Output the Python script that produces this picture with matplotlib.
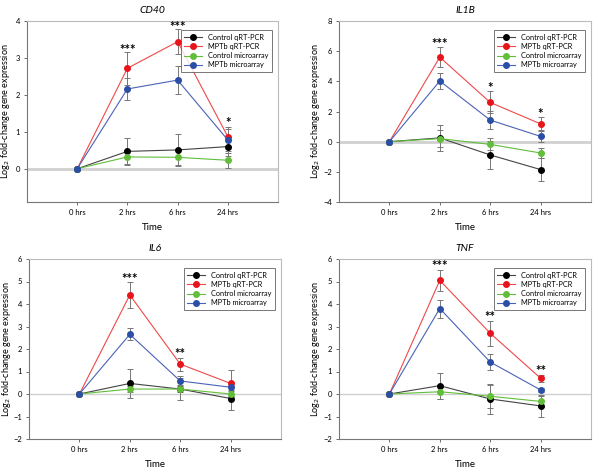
import matplotlib
matplotlib.use("Agg")
import matplotlib.pyplot as plt

plt.rcParams["font.family"] = ["Lato", "DejaVu Sans"]

times = ["0 hrs", "2 hrs", "6 hrs", "24 hrs"]
series_names = ["Control qRT-PCR", "MPTb qRT-PCR", "Control microarray", "MPTb microarray"]
series_colors = ["#000000", "#e8141b", "#62bd3a", "#2b4ea6"]
line_colors = ["#444444", "#f04848", "#62bd3a", "#4a62b8"]

# CD40
cd40_vals = [
    [0, 0.47, 0.51, 0.60],
    [0, 2.72, 3.44, 0.87],
    [0, 0.32, 0.31, 0.23],
    [0, 2.16, 2.40, 0.78],
]
cd40_err = [
    [0, 0.37, 0.43, 0.25],
    [0, 0.44, 0.34, 0.26],
    [0, 0.20, 0.22, 0.21],
    [0, 0.31, 0.38, 0.30],
]
cd40_stars = [(1, 3.22, "***"), (2, 3.83, "***"), (3, 1.25, "*")]

# IL1B
il1b_vals = [
    [0, 0.25, -0.88, -1.85],
    [0, 5.60, 2.60, 1.18],
    [0, 0.20, -0.18, -0.75],
    [0, 4.02, 1.43, 0.35],
]
il1b_err = [
    [0, 0.85, 0.92, 0.75],
    [0, 0.66, 0.73, 0.45],
    [0, 0.55, 0.40, 0.35],
    [0, 0.52, 0.60, 0.40],
]
il1b_stars = [(1, 6.45, "***"), (2, 3.55, "*"), (3, 1.85, "*")]

# IL6
il6_vals = [
    [0, 0.47, 0.22, -0.20],
    [0, 4.40, 1.33, 0.47],
    [0, 0.22, 0.22, 0.00],
    [0, 2.65, 0.58, 0.30],
]
il6_err = [
    [0, 0.64, 0.48, 0.52],
    [0, 0.56, 0.29, 0.58],
    [0, 0.15, 0.12, 0.12],
    [0, 0.27, 0.20, 0.10],
]
il6_stars = [(1, 5.10, "***"), (2, 1.76, "**")]

# TNF
tnf_vals = [
    [0, 0.37, -0.22, -0.53],
    [0, 5.05, 2.70, 0.70],
    [0, 0.10, -0.10, -0.33],
    [0, 3.80, 1.42, 0.18],
]
tnf_err = [
    [0, 0.58, 0.65, 0.47],
    [0, 0.48, 0.56, 0.16],
    [0, 0.30, 0.50, 0.25],
    [0, 0.40, 0.34, 0.10],
]
tnf_stars = [(1, 5.67, "***"), (2, 3.42, "**"), (3, 1.03, "**")]

panels = [
    ("CD40", cd40_vals, cd40_err, cd40_stars, (-0.9, 4), [0, 1, 2, 3, 4], [27, 21, 278, 202], 12, 2.0),
    ("IL1B", il1b_vals, il1b_err, il1b_stars, (-4, 8), [-4, -2, 0, 2, 4, 6, 8], [339, 21, 591, 202], 322, 2.0),
    ("IL6", il6_vals, il6_err, il6_stars, (-2, 6), [-2, -1, 0, 1, 2, 3, 4, 5, 6], [29, 259, 281, 439], 13, 1.0),
    ("TNF", tnf_vals, tnf_err, tnf_stars, (-2, 6), [-2, -1, 0, 1, 2, 3, 4, 5, 6], [339, 259, 591, 439], 322, 1.0),
]

W, H = 600, 470
fig = plt.figure(figsize=(6, 4.7), dpi=100)

for title, vals, errs, stars, ylim, yticks, box, labx, zlw in panels:
    l, t, r, b = box
    ax = fig.add_axes([l / W, 1 - b / H, (r - l) / W, (b - t) / H])
    x = range(len(times))
    ax.axhline(0, color="#d0d0d0", lw=zlw, zorder=0)
    for i in range(len(series_names)):
        ax.errorbar(x, vals[i], yerr=errs[i], fmt="none", ecolor="#777777",
                    elinewidth=0.7, capsize=2.5, capthick=0.7, zorder=1)
    for i in range(len(series_names)):
        ax.plot(x, vals[i], color=line_colors[i], lw=0.8, marker="o", ms=4.0,
                mfc=series_colors[i], mec=series_colors[i], label=series_names[i], zorder=3)
    for xi, yi, s in stars:
        ax.text(xi, yi, s, ha="center", va="center", fontsize=9.5, fontweight="bold")
    ax.set_xlim(-1, 4)
    ax.set_ylim(*ylim)
    ax.set_yticks(yticks)
    ax.set_xticks(list(x))
    ax.set_xticklabels(times)
    ax.tick_params(labelsize=5.5, length=2, width=0.6, color="#555555", pad=3)
    for side in ["left", "bottom"]:
        ax.spines[side].set_color("#777777")
        ax.spines[side].set_linewidth(0.8)
    for side in ["top", "right"]:
        ax.spines[side].set_color("#bbbbbb")
        ax.spines[side].set_linewidth(0.8)
    ax.set_title(title, style="italic", fontsize=7.5, pad=6)
    ax.set_xlabel("Time", fontsize=7, labelpad=5)
    ax.set_ylabel("Log$_2$ fold-change gene expression", fontsize=6.5)
    ax.yaxis.set_label_coords((labx - l) / (r - l), 0.5)
    leg = ax.legend(loc="upper right", fontsize=5.3, frameon=True, fancybox=False,
                    borderpad=0.5, handlelength=2.4, labelspacing=0.3,
                    bbox_to_anchor=(0.99, 0.97))
    leg.get_frame().set_edgecolor("#555555")
    leg.get_frame().set_linewidth(0.7)

fig.savefig("out.png", dpi=100)
